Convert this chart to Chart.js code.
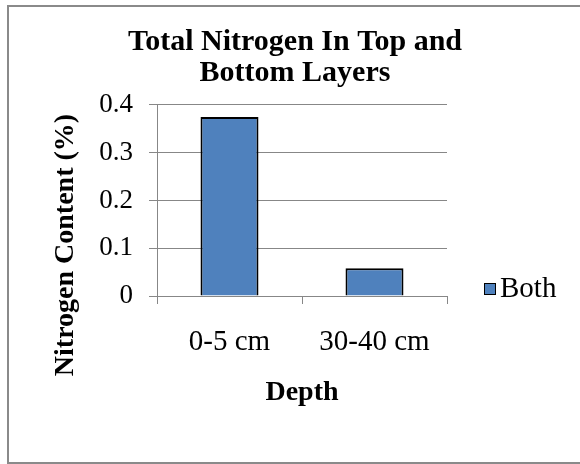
<!DOCTYPE html>
<html>
<head>
<meta charset="utf-8">
<script src="https://cdn.jsdelivr.net/npm/chart.js@4/dist/chart.umd.min.js"></script>
<style>
  body { margin: 0; background: #fff; }
  #frame { position: absolute; left: 7px; top: 5px; width: 600px; height: 455px; border: 2px solid #8a8a8a; }
  #wrap { position: absolute; left: 0; top: 0; width: 580px; height: 464px; }
</style>
</head>
<body>
<div id="frame"></div>
<div id="wrap"><canvas id="chart"></canvas></div>
<script>
const depths = ['0-5 cm', '30-40 cm'];
const nitrogen = [0.375, 0.058];
const yTicks = [0, 0.1, 0.2, 0.3, 0.4];
const seriesName = 'Both';
const titleLines = ['Total Nitrogen In Top and', 'Bottom Layers'];
const xTitle = 'Depth';
const yTitle = 'Nitrogen Content (%)';

const gridGray = '#878787';
const barBlue = '#4f81bd';

Chart.defaults.font.family = "'Liberation Serif', serif";
Chart.defaults.color = '#000';

// y axis title sits lower than the axis centre in the original, so draw it by hand
const yTitlePlugin = {
  id: 'yTitle',
  afterDraw(chart) {
    const ctx = chart.ctx;
    ctx.save();
    ctx.translate(66, 245);
    ctx.rotate(-Math.PI / 2);
    ctx.font = "bold 28px 'Liberation Serif'";
    ctx.fillStyle = '#000';
    ctx.textAlign = 'center';
    ctx.textBaseline = 'middle';
    ctx.fillText(yTitle, 0, 0);
    ctx.restore();
  }
};

// legend sits near the bottom right of the plot, not centred
const legendPlugin = {
  id: 'sideLegend',
  afterDraw(chart) {
    const ctx = chart.ctx;
    const area = chart.chartArea;
    const ds = chart.data.datasets[0];
    const x = area.right + 37;
    const y = area.bottom - 7;
    ctx.save();
    ctx.fillStyle = ds.backgroundColor;
    ctx.fillRect(x, y - 6, 12, 12);
    ctx.strokeStyle = ds.borderColor;
    ctx.lineWidth = 1;
    ctx.strokeRect(x + 0.5, y - 5.5, 11, 11);
    ctx.font = "29px 'Liberation Serif'";
    ctx.fillStyle = '#000';
    ctx.textBaseline = 'middle';
    ctx.fillText(ds.label, x + 16, y);
    ctx.restore();
  }
};

new Chart(document.getElementById('chart'), {
  type: 'bar',
  data: {
    labels: depths,
    datasets: [{
      label: seriesName,
      data: nitrogen,
      backgroundColor: barBlue,
      borderColor: '#000',
      borderWidth: 2,
      categoryPercentage: 1,
      barPercentage: 0.4
    }]
  },
  options: {
    responsive: true,
    maintainAspectRatio: false,
    animation: false,
    layout: { padding: { left: 10, right: 0, top: 0, bottom: 0 } },
    plugins: {
      legend: { display: false },
      tooltip: { enabled: false },
      title: {
        display: true,
        text: titleLines,
        color: '#000',
        font: { size: 30, weight: 'bold', lineHeight: 1.033 },
        padding: { top: 27, bottom: 16 }
      }
    },
    scales: {
      x: {
        grid: { display: true, drawOnChartArea: false, drawTicks: true, tickLength: 8, color: gridGray, offset: true },
        border: { color: gridGray },
        ticks: { font: { size: 29 }, padding: 21, maxRotation: 0 },
        title: { display: true, text: xTitle, font: { size: 28, weight: 'bold' }, padding: { top: 0, bottom: 54 } },
        afterFit(scale) { scale.height = 168; }
      },
      y: {
        min: 0,
        max: 0.4,
        afterBuildTicks(scale) { scale.ticks = yTicks.map(v => ({ value: v })); },
        grid: { color: gridGray, tickLength: 8 },
        border: { color: gridGray },
        ticks: { font: { size: 27 }, padding: 16 },
        afterFit(scale) { scale.width = 147; }
      },
      spacer: {
        position: 'right',
        display: true,
        grid: { display: false },
        border: { display: false },
        ticks: { display: false },
        afterFit(scale) { scale.width = 133; }
      }
    }
  },
  plugins: [yTitlePlugin, legendPlugin]
});
</script>
</body>
</html>
